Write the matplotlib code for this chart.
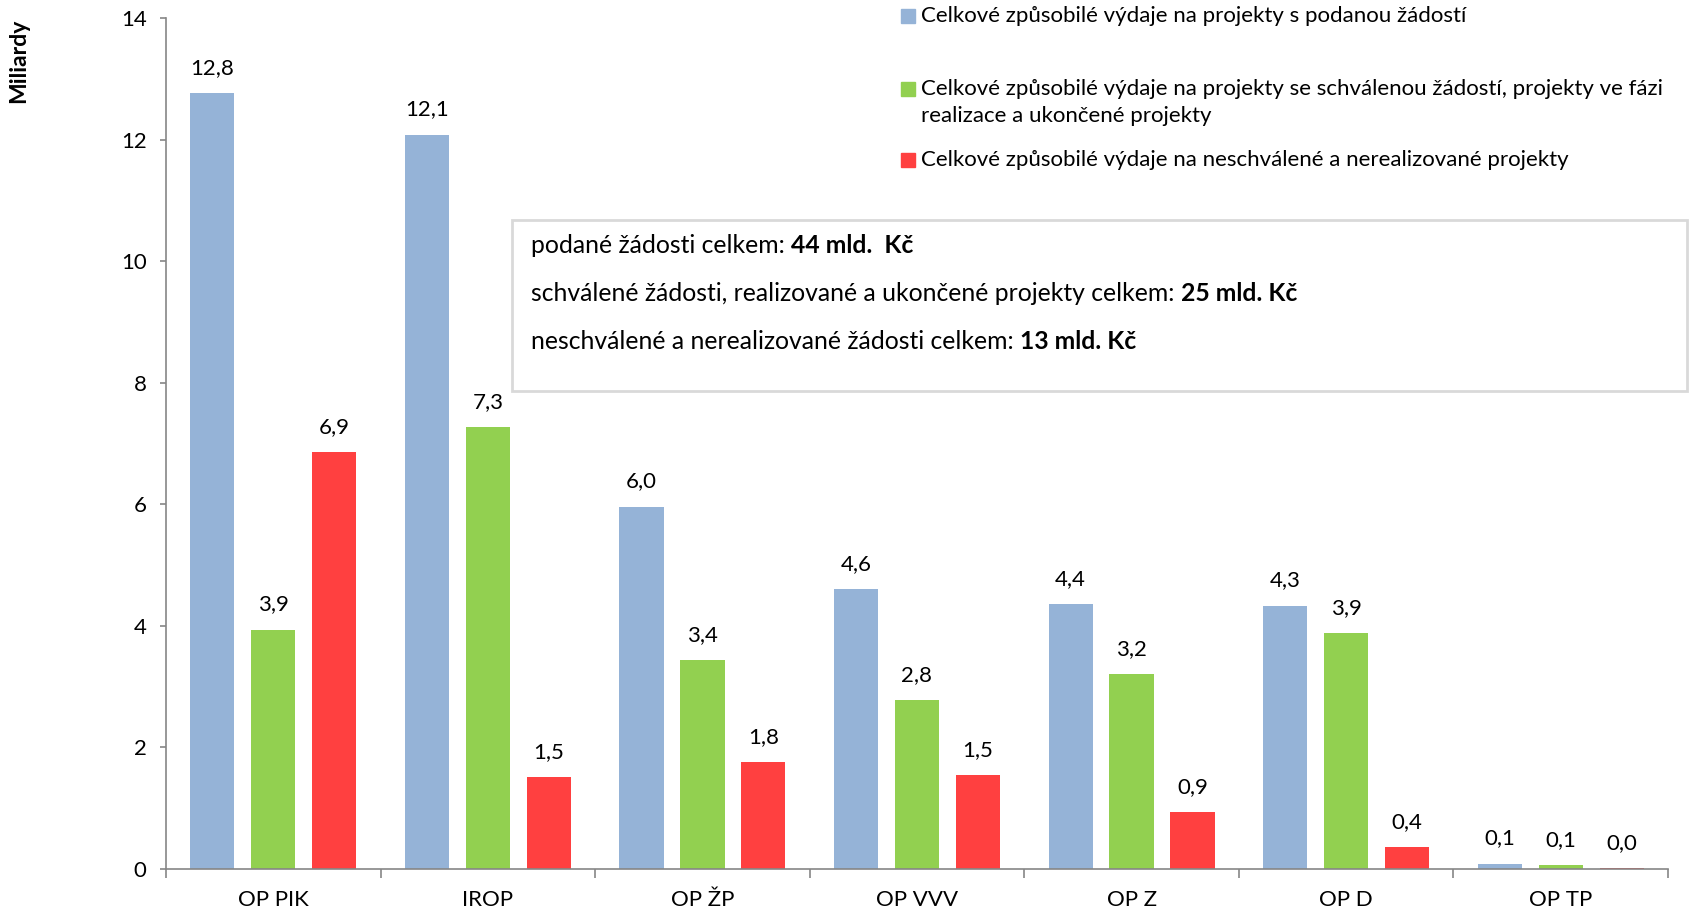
import matplotlib
matplotlib.use('Agg')
import numpy as np
import matplotlib.pyplot as plt
from matplotlib.patches import Rectangle

categories = ['OP PIK', 'IROP', 'OP ŽP', 'OP VVV', 'OP Z', 'OP D', 'OP TP']
podane = [12.76, 12.08, 5.96, 4.60, 4.36, 4.33, 0.09]
schvalene = [3.94, 7.27, 3.44, 2.78, 3.21, 3.88, 0.06]
neschvalene = [6.86, 1.51, 1.76, 1.54, 0.93, 0.36, 0.01]

series_names = [
    'Celkové způsobilé výdaje na projekty s podanou žádostí',
    'Celkové způsobilé výdaje na projekty se schválenou žádostí, projekty ve fázi\nrealizace a ukončené projekty',
    'Celkové způsobilé výdaje na neschválené a nerealizované projekty',
]
series_colors = ['#95B3D7', '#92D050', '#FF4040']

totals_text = ['podané žádosti celkem: ',
               'schválené žádosti, realizované a ukončené projekty celkem: ',
               'neschválené a nerealizované žádosti celkem: ']
totals_bold = ['44 mld.  Kč', '25 mld. Kč', '13 mld. Kč']

W, H = 1690, 911


def main():
    plt.rcParams['font.family'] = ['Lato', 'DejaVu Sans']
    fig = plt.figure(figsize=(W / 100, H / 100), dpi=100)
    ax = fig.add_axes([166 / W, 1 - 869 / H, (1668 - 166) / W, (869 - 18) / H])

    x = np.arange(len(categories))
    width = 0.206
    step = 0.284
    data = [podane, schvalene, neschvalene]
    for i, (vals, col) in enumerate(zip(data, series_colors)):
        pos = x + (i - 1) * step
        ax.bar(pos, vals, width, color=col, zorder=2)
        for px, v in zip(pos, vals):
            ax.annotate(f'{v:.1f}'.replace('.', ','), (px, v),
                        xytext=(0, 11), textcoords='offset points',
                        ha='center', va='bottom', fontsize=16)

    ax.set_xlim(-0.5, len(categories) - 0.5)
    ax.set_ylim(0, 14)
    ax.set_yticks(np.arange(0, 15, 2))
    ax.tick_params(axis='y', labelsize=16, length=4, width=1.2,
                   color='#868686', pad=10)
    ax.set_xticks(x)
    ax.set_xticklabels(categories)
    ax.set_xticks(np.arange(-0.5, len(categories)), minor=True)
    ax.tick_params(axis='x', which='major', length=0, labelsize=16, pad=15)
    ax.tick_params(axis='x', which='minor', length=6.5, width=1.2,
                   color='#868686')

    ax.spines['top'].set_visible(False)
    ax.spines['right'].set_visible(False)
    for s in ['left', 'bottom']:
        ax.spines[s].set_color('#868686')
        ax.spines[s].set_linewidth(1.2)

    fig.text(19 / W, 1 - 61 / H, 'Miliardy', rotation=90, fontsize=16.5,
             fontweight='bold', ha='center', va='center')

    # legend drawn by hand
    leg_y = [16, 89, 160]
    for name, col, yy in zip(series_names, series_colors, leg_y):
        fig.add_artist(Rectangle((901 / W, 1 - (yy + 7) / H), 14 / W, 14 / H,
                                 transform=fig.transFigure, color=col))
        fig.text(921 / W, 1 - (yy - 10) / H, name, fontsize=16,
                 ha='left', va='top', linespacing=1.42)

    # box with totals
    fig.add_artist(Rectangle((512 / W, 1 - 391 / H), (1687 - 512) / W,
                             (391 - 220) / H, transform=fig.transFigure,
                             facecolor='white', edgecolor='#d9d9d9', lw=2))
    renderer = fig.canvas.get_renderer()
    for yy, t, b in zip([253, 301, 349], totals_text, totals_bold):
        t1 = fig.text(531 / W, 1 - yy / H, t, fontsize=17.8, ha='left',
                      va='baseline')
        x_end = t1.get_window_extent(renderer).x1 / W
        fig.text(x_end, 1 - yy / H, b, fontsize=17.8, fontweight='bold',
                 ha='left', va='baseline')

    fig.savefig('out.png', dpi=100)


if __name__ == '__main__':
    main()
